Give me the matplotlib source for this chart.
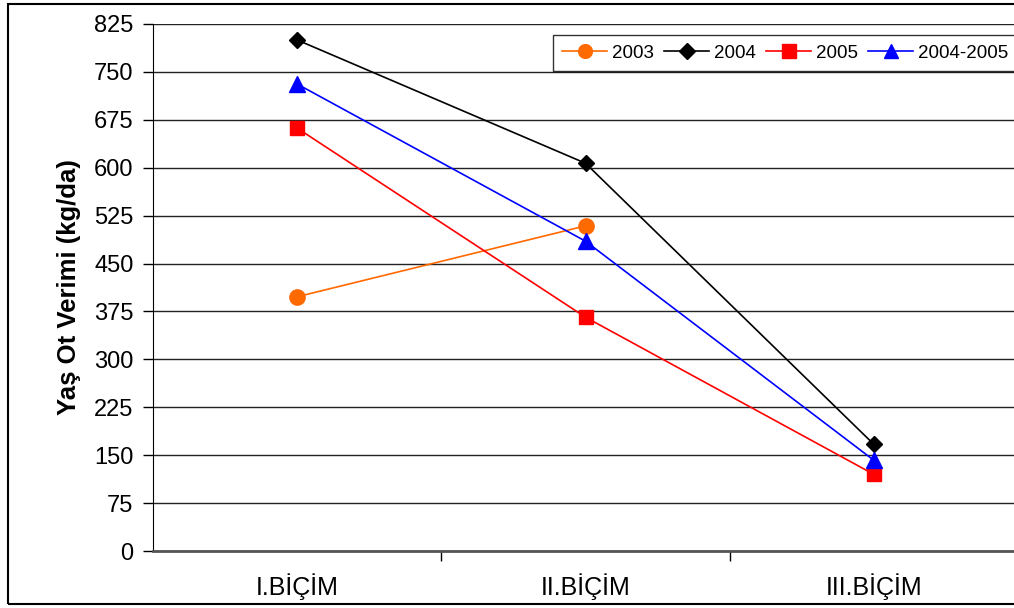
import matplotlib.pyplot as plt
from matplotlib.patches import Rectangle

plt.rcParams['font.family'] = ['Liberation Sans', 'DejaVu Sans']

categories = ['I.BİÇİM', 'II.BİÇİM', 'III.BİÇİM']
y_ticks = [0, 75, 150, 225, 300, 375, 450, 525, 600, 675, 750, 825]

yield_2003 = [398, 509]
yield_2004 = [800, 607, 167]
yield_2005 = [662, 366, 120]
yield_2004_2005 = [731, 485, 142]

fig = plt.figure(figsize=(10.14, 6.08), dpi=100)
ax = fig.add_axes([153 / 1014, 1 - 551 / 608, 865 / 1014, 527 / 608])

x = [0, 1, 2]
ax.plot(x[:2], yield_2003, color='#ff6a00', marker='o', markersize=11, lw=1.2, label='2003')
ax.plot(x, yield_2004, color='black', marker='D', markersize=8.5, lw=1.2, label='2004')
ax.plot(x, yield_2005, color='#ff0000', marker='s', markersize=10.5, lw=1.2, label='2005')
ax.plot(x, yield_2004_2005, color='#0000ff', marker='^', markersize=11, lw=1.2, label='2004-2005')

ax.set_xlim(-0.5, 2.5)
ax.set_ylim(0, 825)
ax.set_yticks(y_ticks)
ax.tick_params(axis='y', labelsize=17, length=7, width=1, direction='out', pad=7)
ax.set_xticks(x)
ax.set_xticklabels(categories, fontsize=18)
ax.tick_params(axis='x', length=0, pad=16)
# category boundary ticks
ax.set_xticks([0.5, 1.5], minor=True)
ax.tick_params(axis='x', which='minor', length=7, width=1, direction='out')

ax.yaxis.grid(True, color='#222222', lw=1)
ax.set_axisbelow(True)
for side in ['top', 'right']:
    ax.spines[side].set_visible(False)
ax.spines['left'].set_color('black')
ax.spines['bottom'].set_color('#555555')
ax.spines['bottom'].set_linewidth(2)

ax.set_ylabel('Yaş Ot Verimi (kg/da)', fontsize=18.5, fontweight='bold', labelpad=9)

leg = fig.legend(loc='upper left', bbox_to_anchor=(553 / 1014, 1 - 35 / 608), ncol=4,
                 fontsize=13.5, frameon=True, fancybox=False, borderaxespad=0,
                 handlelength=2.4, columnspacing=0.55, handletextpad=0.25,
                 borderpad=0.5, markerscale=0.9)
leg.get_frame().set_edgecolor('black')
leg.get_frame().set_linewidth(1)

# outer chart border
fig.patches.append(Rectangle((8 / 1014, 1 - 604 / 608), 1.0, 600 / 608,
                             transform=fig.transFigure, fill=False,
                             edgecolor='black', lw=1.5))

fig.savefig('out.png', dpi=100)
